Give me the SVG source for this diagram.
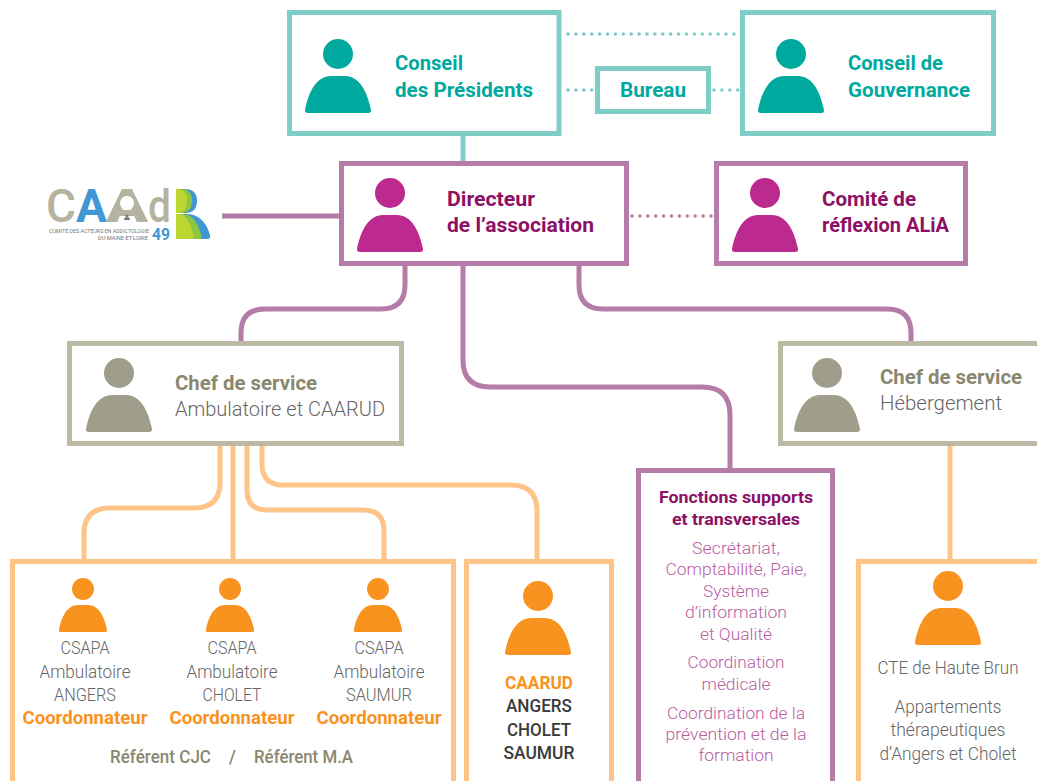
<svg xmlns="http://www.w3.org/2000/svg" width="1037" height="781" viewBox="0 0 1037 781">
<style>
text{font-family:"Roboto","Liberation Sans",sans-serif}
.box{fill:#fff;stroke-width:5}
.teal{stroke:#7fcdc7}.plum{stroke:#b47ca6}.sand{stroke:#bcb9a4}.org{stroke:#fec487}
.c{fill:none;stroke-width:5}
.dot{fill:none;stroke-width:3.6;stroke-linecap:round;stroke-dasharray:0 7.900}
.b{font-weight:700;font-size:20px}
.l{font-weight:300;font-size:17.500px;fill:#666}
.p{font-weight:300;font-size:17px;fill:#b9609f;text-anchor:middle}
.oc{font-weight:700;font-size:18px;fill:#f7931e;text-anchor:middle}
</style>
<defs>
<g id="person"><circle cx="0" cy="0" r="15"/><path d="M-30 59H30Q33.800 59 32.800 55C29 37 21 22 7 22H-7C-21 22-29 37-32.800 55Q-33.800 59-30 59Z"/></g>
</defs>
<g id="connectors">
<path class="c teal" d="M463 135V162"/>
<path class="dot teal" d="M568 34H738M568 90H593M714 90H738"/>
<path class="dot plum" d="M632 216H712"/>
<path class="c plum" d="M222 216H341"/>
<path class="c plum" d="M405 264V285Q405 309 381 309H265Q241 309 241 333V343"/>
<path class="c plum" d="M463 264V360Q463 387 490 387H702Q730 387 730 415V470"/>
<path class="c plum" d="M579 264V285Q579 309 603 309H887Q911 309 911 333V343"/>
<path class="c org" d="M220 445V482Q220 508 194 508H110Q84 508 84 534V561"/>
<path class="c org" d="M233 445V561"/>
<path class="c org" d="M247 445V490Q247 510 267 510H363Q384 510 384 531V561"/>
<path class="c org" d="M262 445V464Q262 485 283 485H511Q537 485 537 511V561"/>
<path class="c org" d="M950 445V561"/>
</g>
<g id="conseil-presidents"><rect class="box teal" x="289.500" y="12.500" width="269.500" height="121"/><use href="#person" x="338" y="54" fill="#00a99d"/><text class="b" x="395" y="70" fill="#00a99d" textLength="68" lengthAdjust="spacingAndGlyphs">Conseil</text><text class="b" x="395" y="97" fill="#00a99d" textLength="138" lengthAdjust="spacingAndGlyphs">des Présidents</text></g>
<g id="bureau"><rect class="box teal" x="597.500" y="68.500" width="111" height="43"/><text class="b" x="653" y="97" fill="#00a99d" text-anchor="middle" textLength="66" lengthAdjust="spacingAndGlyphs">Bureau</text></g>
<g id="conseil-gouvernance"><rect class="box teal" x="742.500" y="12.500" width="251" height="121"/><use href="#person" x="791" y="54" fill="#00a99d"/><text class="b" x="848" y="70" fill="#00a99d" textLength="95" lengthAdjust="spacingAndGlyphs">Conseil de</text><text class="b" x="848" y="97" fill="#00a99d" textLength="122" lengthAdjust="spacingAndGlyphs">Gouvernance</text></g>
<g id="directeur"><rect class="box plum" x="341.500" y="163.500" width="285" height="100"/><use href="#person" x="390" y="193" fill="#bc2a8f"/><text class="b" x="447" y="206" fill="#8c1164" textLength="88" lengthAdjust="spacingAndGlyphs">Directeur</text><text class="b" x="447" y="232" fill="#8c1164" textLength="147" lengthAdjust="spacingAndGlyphs">de l’association</text></g>
<g id="comite"><rect class="box plum" x="716.500" y="163.500" width="249" height="100"/><use href="#person" x="765" y="193" fill="#bc2a8f"/><text class="b" x="822" y="206" fill="#8c1164" textLength="94" lengthAdjust="spacingAndGlyphs">Comité de</text><text class="b" x="822" y="232" fill="#8c1164" textLength="127" lengthAdjust="spacingAndGlyphs">réflexion ALiA</text></g>
<g id="logo-caadb">
<text x="46" y="222" font-size="47" fill="#b5b3a0" font-weight="500" textLength="30" lengthAdjust="spacingAndGlyphs">C</text>
<text x="76" y="222" font-size="47" fill="#3f97d3" font-weight="700" textLength="31" lengthAdjust="spacingAndGlyphs">A</text>
<text x="106" y="222" font-size="47" fill="#b5b3a0" font-weight="900" textLength="42" lengthAdjust="spacingAndGlyphs">A</text>
<circle cx="127" cy="203" r="7" fill="#fff"/>
<path d="M127 214.500a1.500 1.500 0 1 0 .01 0M124 220q0-3 3-3t3 3z" fill="#777"/>
<text x="148" y="222" font-size="47" fill="#b5b3a0" font-weight="500" textLength="23" lengthAdjust="spacingAndGlyphs">d</text>
<text x="49" y="232.500" font-size="5.200" fill="#777" textLength="100" lengthAdjust="spacingAndGlyphs">COMITÉ DES ACTEURS EN ADDICTOLOGIE</text>
<text x="98" y="239.500" font-size="5.200" fill="#777" textLength="50" lengthAdjust="spacingAndGlyphs">DU MAINE-ET-LOIRE</text>
<text x="152" y="240" font-size="16" font-weight="700" fill="#3f97d3" textLength="18" lengthAdjust="spacingAndGlyphs">49</text>
<path d="M176 189H185Q197 189 197 201Q197 213 185 213H176Z" fill="#3f97d3"/>
<path d="M176 189H181Q192 189 192 201Q192 213 181 213H176Z" fill="#8cc63f"/>
<path d="M176 189H178Q187 189 187 201Q187 213 178 213H176Z" fill="#bdd631"/>
<path d="M176 214H186Q204 214 210 235Q211 239 207 239H176Z" fill="#3f97d3"/>
<path d="M176 214H182Q197 214 202 239H176Z" fill="#8cc63f"/>
<path d="M176 214H178Q190 214 194 239H176Z" fill="#bdd631"/>
</g>
<g id="chef-ambulatoire"><rect class="box sand" x="69.500" y="343.500" width="332" height="100"/><use href="#person" x="119" y="373" fill="#a09d8a"/><text class="b" x="175" y="390" fill="#8a8770" textLength="142" lengthAdjust="spacingAndGlyphs">Chef de service</text><text x="175" y="416" font-size="20" font-weight="300" fill="#666" textLength="210" lengthAdjust="spacingAndGlyphs">Ambulatoire et CAARUD</text></g>
<g id="chef-hebergement"><rect class="box sand" x="780.500" y="343.500" width="262" height="100"/><use href="#person" x="827" y="373" fill="#a09d8a"/><text class="b" x="880" y="384" fill="#8a8770" textLength="142" lengthAdjust="spacingAndGlyphs">Chef de service</text><text x="880" y="410" font-size="20" font-weight="300" fill="#666" textLength="122" lengthAdjust="spacingAndGlyphs">Hébergement</text></g>
<g id="csapa"><rect class="box org" x="12.500" y="561.500" width="441" height="230"/>
<use href="#person" transform="translate(83 589) scale(.73)" fill="#f7931e"/>
<use href="#person" transform="translate(230 589) scale(.73)" fill="#f7931e"/>
<use href="#person" transform="translate(378 589) scale(.73)" fill="#f7931e"/>
<g class="l" text-anchor="middle">
<text x="85" y="654" textLength="49" lengthAdjust="spacingAndGlyphs">CSAPA</text><text x="85" y="678" textLength="91" lengthAdjust="spacingAndGlyphs">Ambulatoire</text><text x="85" y="701" textLength="62" lengthAdjust="spacingAndGlyphs">ANGERS</text>
<text x="232" y="654" textLength="49" lengthAdjust="spacingAndGlyphs">CSAPA</text><text x="232" y="678" textLength="91" lengthAdjust="spacingAndGlyphs">Ambulatoire</text><text x="232" y="701" textLength="59" lengthAdjust="spacingAndGlyphs">CHOLET</text>
<text x="379" y="654" textLength="49" lengthAdjust="spacingAndGlyphs">CSAPA</text><text x="379" y="678" textLength="91" lengthAdjust="spacingAndGlyphs">Ambulatoire</text><text x="379" y="701" textLength="66" lengthAdjust="spacingAndGlyphs">SAUMUR</text>
</g>
<text class="oc" x="85" y="724" textLength="125" lengthAdjust="spacingAndGlyphs">Coordonnateur</text><text class="oc" x="232" y="724" textLength="125" lengthAdjust="spacingAndGlyphs">Coordonnateur</text><text class="oc" x="379" y="724" textLength="125" lengthAdjust="spacingAndGlyphs">Coordonnateur</text>
<g font-size="17.500" font-weight="500" fill="#8a8770"><text x="110" y="763" textLength="101" lengthAdjust="spacingAndGlyphs">Référent CJC</text><text x="229" y="763">/</text><text x="254" y="763" textLength="99" lengthAdjust="spacingAndGlyphs">Référent M.A</text></g></g>
<g id="caarud"><rect class="box org" x="466.500" y="561.500" width="145" height="230"/><use href="#person" x="538" y="596" fill="#f7931e"/>
<text class="oc" x="539" y="689" textLength="68" lengthAdjust="spacingAndGlyphs">CAARUD</text>
<g font-size="18" font-weight="500" fill="#3a3a3a" text-anchor="middle"><text x="539" y="712" textLength="66" lengthAdjust="spacingAndGlyphs">ANGERS</text><text x="539" y="736" textLength="64" lengthAdjust="spacingAndGlyphs">CHOLET</text><text x="539" y="759" textLength="71" lengthAdjust="spacingAndGlyphs">SAUMUR</text></g></g>
<g id="fonctions"><rect class="box plum" x="638.500" y="470.500" width="194" height="320"/>
<g font-size="16" font-weight="700" fill="#8c1164" text-anchor="middle"><text x="736" y="503" textLength="154" lengthAdjust="spacingAndGlyphs">Fonctions supports</text><text x="736" y="525" textLength="128" lengthAdjust="spacingAndGlyphs">et transversales</text></g>
<text class="p" x="736" y="554" textLength="88" lengthAdjust="spacingAndGlyphs">Secrétariat,</text><text class="p" x="736" y="575" textLength="141" lengthAdjust="spacingAndGlyphs">Comptabilité, Paie,</text><text class="p" x="736" y="597" textLength="66" lengthAdjust="spacingAndGlyphs">Système</text><text class="p" x="736" y="618" textLength="102" lengthAdjust="spacingAndGlyphs">d’information</text><text class="p" x="736" y="640" textLength="72" lengthAdjust="spacingAndGlyphs">et Qualité</text>
<text class="p" x="736" y="668" textLength="97" lengthAdjust="spacingAndGlyphs">Coordination</text><text class="p" x="736" y="690" textLength="69" lengthAdjust="spacingAndGlyphs">médicale</text>
<text class="p" x="736" y="719" textLength="138" lengthAdjust="spacingAndGlyphs">Coordination de la</text><text class="p" x="736" y="740" textLength="141" lengthAdjust="spacingAndGlyphs">prévention et de la</text><text class="p" x="736" y="761" textLength="75" lengthAdjust="spacingAndGlyphs">formation</text></g>
<g id="cte"><rect class="box org" x="858.500" y="561.500" width="190" height="230"/><use href="#person" x="948" y="586" fill="#f7931e"/>
<g class="l" text-anchor="middle"><text x="948" y="674" textLength="141" lengthAdjust="spacingAndGlyphs">CTE de Haute Brun</text><text x="948" y="713" textLength="107" lengthAdjust="spacingAndGlyphs">Appartements</text><text x="948" y="736" textLength="115" lengthAdjust="spacingAndGlyphs">thérapeutiques</text><text x="948" y="760" textLength="137" lengthAdjust="spacingAndGlyphs">d’Angers et Cholet</text></g></g>
</svg>
